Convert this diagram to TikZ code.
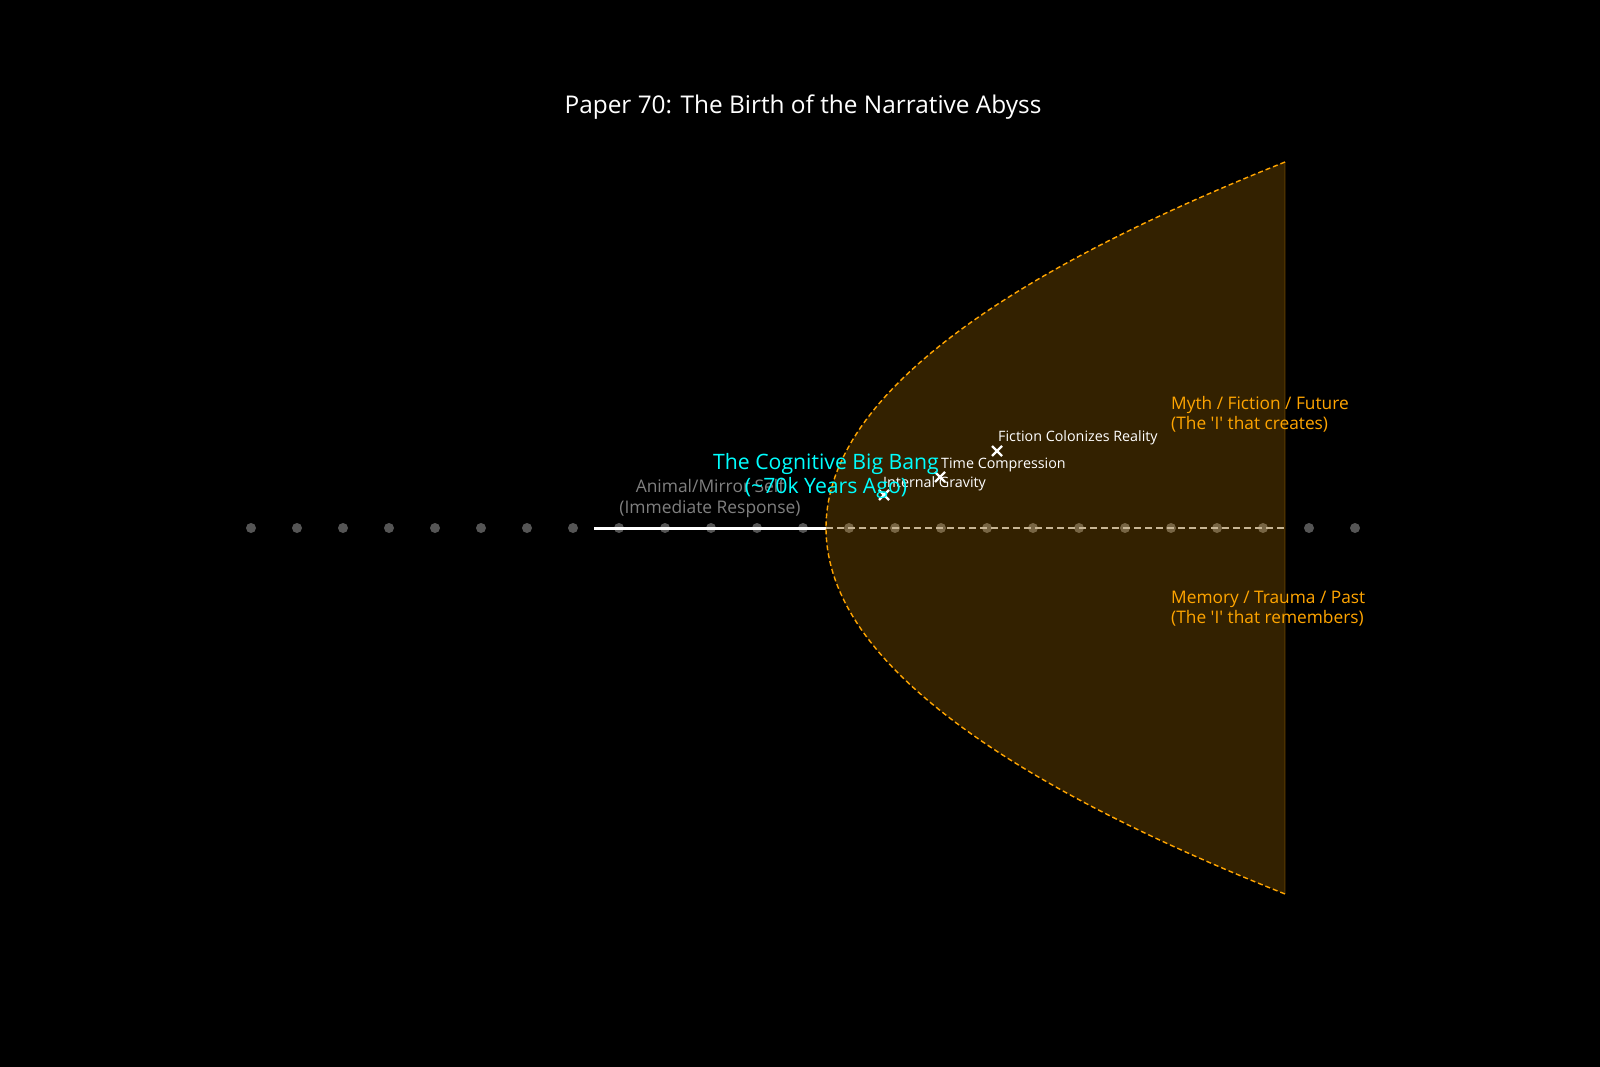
\documentclass[tikz,border=0pt]{standalone}
\usepackage{fontspec}
\setmainfont{Open Sans}
\usetikzlibrary{calc}
\definecolor{orng}{RGB}{255,165,0}
\definecolor{cyn}{RGB}{0,255,255}
\definecolor{dotgray}{RGB}{85,85,85}
\definecolor{txtgray}{RGB}{128,128,128}
\definecolor{dashgray}{RGB}{185,185,185}
\begin{document}
\begin{tikzpicture}[x=1pt,y=-1pt,
  dotmark/.style={circle,fill=dotgray,inner sep=0pt,minimum size=10pt},
  xmark/.style={draw=white,line width=2.2pt},
  smalllbl/.style={text=white,font=\fontsize{14.3}{16}\selectfont,anchor=west,inner sep=0pt},
  orlbl/.style={text=orng,font=\fontsize{17.3}{20}\selectfont,anchor=west,align=left,inner sep=0pt}]
\fill[black] (0,0) rectangle (1600,1067);
\useasboundingbox (0,0) rectangle (1600,1067);
% dots
\foreach \i in {0,...,24} {
  \node[dotmark] (d\i) at ({251+46*\i},528) {};
}
% lines
\coordinate (ws) at (594,528);
\coordinate (v) at (826,528);
\coordinate (we) at (1285,528);
\draw[dashgray,line width=1.3pt,dash pattern=on 7pt off 4pt] (v) -- (we);
\draw[white,line width=3pt] (ws) -- (v);
% abyss
\fill[orng,opacity=0.2] plot[domain=-366:366,samples=120] ({826+34.27*(\x/100)*(\x/100)},{528+\x}) -- cycle;
\draw[orng,line width=1.4pt,dash pattern=on 5pt off 3pt] plot[domain=-366:366,samples=120] ({826+34.27*(\x/100)*(\x/100)},{528+\x});
\draw[orng,opacity=0.12,line width=1.5pt] (1285,162) -- (1285,894);
% markers
\foreach \n/\px/\py in {m1/884/495,m2/940/477,m3/997/451} {
  \coordinate (\n) at (\px,\py);
  \draw[xmark] ($(\n)+(-5,-5)$) -- ($(\n)+(5,5)$);
  \draw[xmark] ($(\n)+(-5,5)$) -- ($(\n)+(5,-5)$);
}
% labels
\node[smalllbl] (l3) at (998,438) {Fiction Colonizes Reality};
\node[smalllbl] (l2) at (941,465) {Time Compression};
\node[smalllbl] (l1) at (883,484) {Internal Gravity};
\node[text=txtgray,font=\fontsize{17.4}{21}\selectfont,align=center,inner sep=0pt] (animal) at (710,498.5) {Animal/Mirror Self\\(Immediate Response)};
\node[text=cyn,font=\fontsize{21.2}{24.5}\selectfont,align=center,inner sep=0pt] (bang) at (826,476) {The Cognitive Big Bang\\(\textasciitilde70k Years Ago)};
\node[orlbl] (myth) at (1171,414.5) {Myth / Fiction / Future\\(The \textquotesingle I\textquotesingle{} that creates)};
\node[orlbl] (mem) at (1171,609) {Memory / Trauma / Past\\(The \textquotesingle I\textquotesingle{} that remembers)};
\node[text=white,font=\fontsize{24.4}{28}\selectfont,inner sep=0pt] (title) at (803,107) {Paper 70: The Birth of the Narrative Abyss};
\end{tikzpicture}
\end{document}
